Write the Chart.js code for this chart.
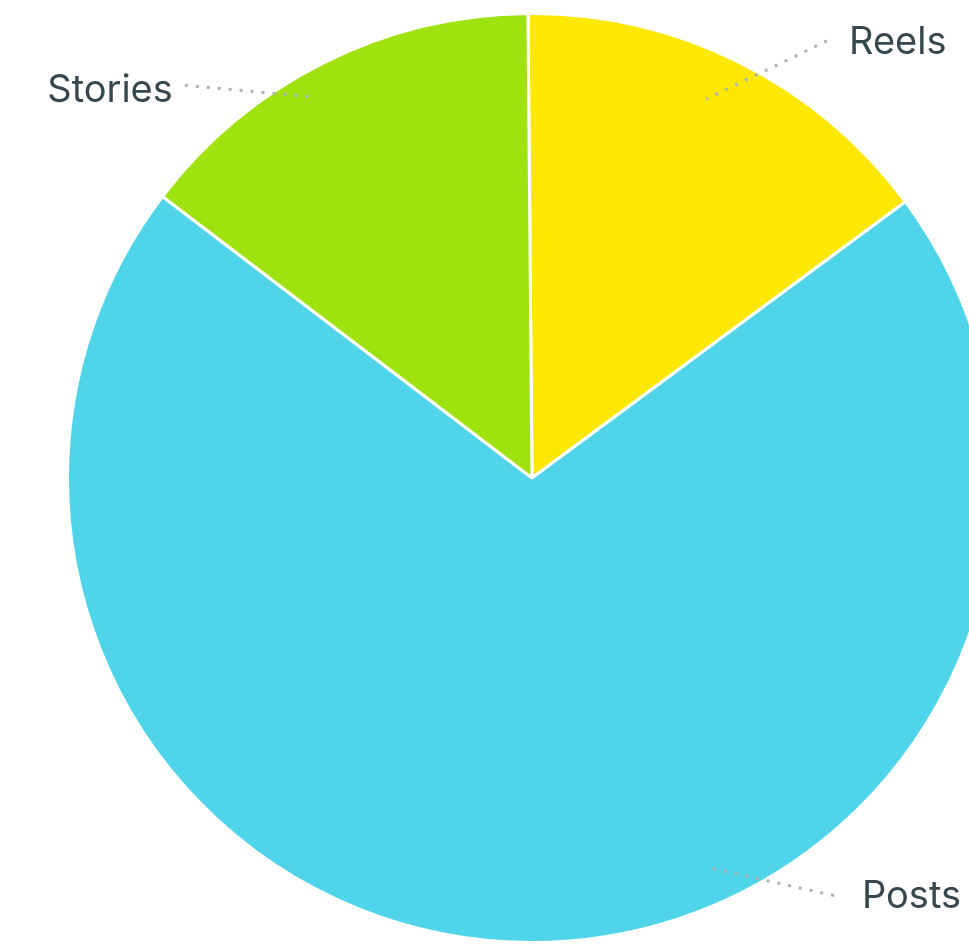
<!DOCTYPE html>
<html>
<head>
<meta charset="utf-8">
<script src="https://cdn.jsdelivr.net/npm/chart.js@4"></script>
<style>
    html, body { margin: 0; padding: 0; background: #fff; overflow: hidden; }
    #wrap { position: absolute; left: 0; top: 0; width: 1064px; height: 944px; }
</style>
</head>
<body>
<div id="wrap"><canvas id="pieChart"></canvas></div>
<script>
// Datos del gráfico
const categories = ['Reels', 'Posts', 'Stories'];
const shares = [15, 70.5, 14.5];
const sliceColors = ['#ffe800', '#50d4ea', '#a0e20f'];

// Etiquetas con línea punteada (anclaje relativo al radio)
const labelSpots = {
    Reels:   { angle: 24.7,  r: 0.895, ex: 0.633,  ey: -0.938, gap: 22, by: 13,   align: 'left' },
    Posts:   { angle: 155.9, r: 0.915, ex: 0.648,  ey: 0.896,  gap: 28, by: 12.5, align: 'left' },
    Stories: { angle: -29.6, r: 0.94,  ex: -0.745, ey: -0.843, gap: 12, by: 16.7, align: 'right' }
};

const leaderLabels = {
    id: 'leaderLabels',
    afterDraw(chart) {
        const ctx = chart.ctx;
        const meta = chart.getDatasetMeta(0);
        const arc0 = meta.data[0];
        const cx = arc0.x, cy = arc0.y, R = arc0.outerRadius + 1.5;
        ctx.save();
        chart.data.labels.forEach(name => {
            const s = labelSpots[name];
            const a = s.angle * Math.PI / 180;
            const x0 = cx + Math.sin(a) * R * s.r;
            const y0 = cy - Math.cos(a) * R * s.r;
            const x1 = cx + s.ex * R;
            const y1 = cy + s.ey * R;
            ctx.beginPath();
            ctx.setLineDash([3, 8]);
            ctx.lineWidth = 3;
            ctx.strokeStyle = '#aab3b7';
            ctx.moveTo(x1, y1);
            ctx.lineTo(x0, y0);
            ctx.stroke();
            ctx.setLineDash([]);
            ctx.font = '38px Inter';
            ctx.fillStyle = '#37474f';
            ctx.textBaseline = 'alphabetic';
            ctx.textAlign = s.align;
            const tx = s.align === 'left' ? x1 + s.gap : x1 - s.gap;
            ctx.fillText(name, tx, y1 + s.by);
        });
        ctx.restore();
    }
};

const ctx = document.getElementById('pieChart').getContext('2d');
new Chart(ctx, {
    type: 'pie',
    data: {
        labels: categories,
        datasets: [{
            data: shares,
            backgroundColor: sliceColors,
            borderColor: '#ffffff',
            borderWidth: 3
        }]
    },
    options: {
        responsive: true,
        maintainAspectRatio: false,
        animation: false,
        rotation: -0.5,
        layout: { padding: { top: 12, bottom: 0 } },
        plugins: {
            legend: { display: false },
            tooltip: { enabled: false }
        }
    },
    plugins: [leaderLabels]
});
</script>
</body>
</html>
